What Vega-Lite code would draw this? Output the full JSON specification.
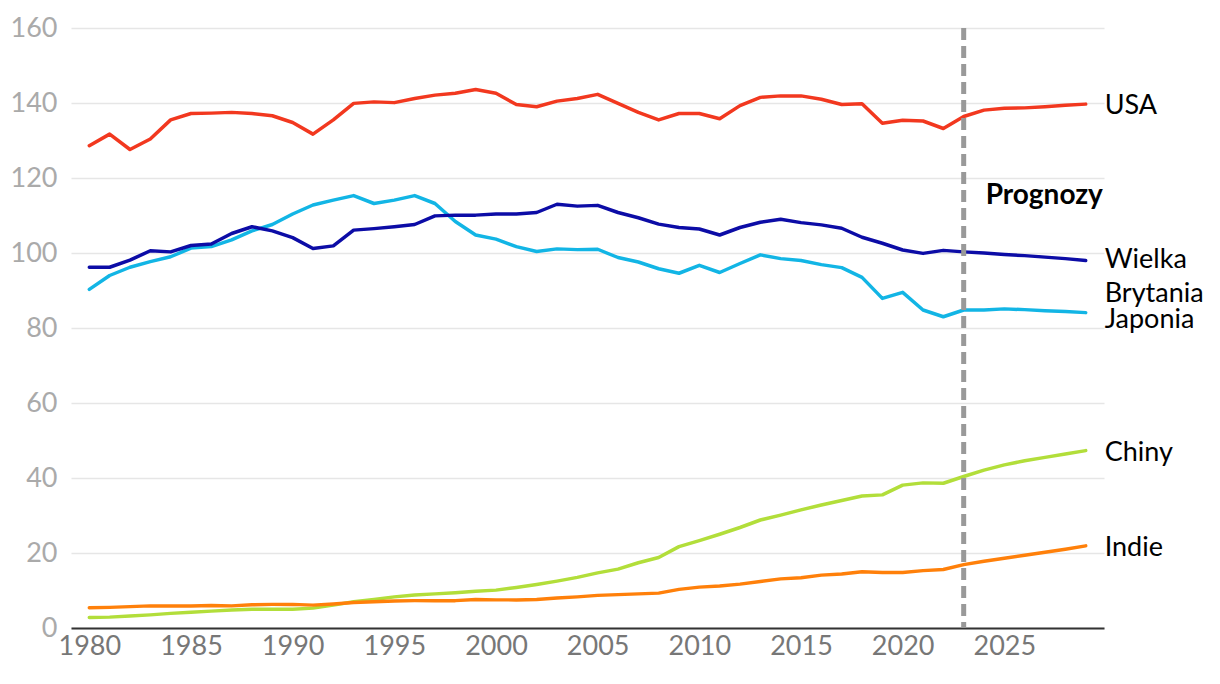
{
  "$schema": "https://vega.github.io/schema/vega-lite/v6.json",
  "width": 1033,
  "height": 600,
  "autosize": "none",
  "padding": {"left": 71, "top": 28, "right": 116, "bottom": 56},
  "background": "white",
  "config": {"font": "Lato", "view": {"stroke": null}},
  "data": {"values": [
    {"country":"USA","year":1980,"value":128.6},{"country":"USA","year":1981,"value":131.7},{"country":"USA","year":1982,"value":127.6},{"country":"USA","year":1983,"value":130.4},{"country":"USA","year":1984,"value":135.5},{"country":"USA","year":1985,"value":137.2},{"country":"USA","year":1986,"value":137.3},{"country":"USA","year":1987,"value":137.5},{"country":"USA","year":1988,"value":137.2},{"country":"USA","year":1989,"value":136.6},
    {"country":"USA","year":1990,"value":134.8},{"country":"USA","year":1991,"value":131.7},{"country":"USA","year":1992,"value":135.5},{"country":"USA","year":1993,"value":139.9},{"country":"USA","year":1994,"value":140.3},{"country":"USA","year":1995,"value":140.1},{"country":"USA","year":1996,"value":141.2},{"country":"USA","year":1997,"value":142.1},{"country":"USA","year":1998,"value":142.6},{"country":"USA","year":1999,"value":143.6},
    {"country":"USA","year":2000,"value":142.6},{"country":"USA","year":2001,"value":139.6},{"country":"USA","year":2002,"value":139.0},{"country":"USA","year":2003,"value":140.5},{"country":"USA","year":2004,"value":141.2},{"country":"USA","year":2005,"value":142.3},{"country":"USA","year":2006,"value":139.9},{"country":"USA","year":2007,"value":137.5},{"country":"USA","year":2008,"value":135.5},{"country":"USA","year":2009,"value":137.2},
    {"country":"USA","year":2010,"value":137.2},{"country":"USA","year":2011,"value":135.8},{"country":"USA","year":2012,"value":139.3},{"country":"USA","year":2013,"value":141.5},{"country":"USA","year":2014,"value":141.9},{"country":"USA","year":2015,"value":141.9},{"country":"USA","year":2016,"value":141.0},{"country":"USA","year":2017,"value":139.6},{"country":"USA","year":2018,"value":139.8},{"country":"USA","year":2019,"value":134.6},
    {"country":"USA","year":2020,"value":135.4},{"country":"USA","year":2021,"value":135.2},{"country":"USA","year":2022,"value":133.2},{"country":"USA","year":2023,"value":136.4},{"country":"USA","year":2024,"value":138.1},{"country":"USA","year":2025,"value":138.6},{"country":"USA","year":2026,"value":138.7},{"country":"USA","year":2027,"value":139.0},{"country":"USA","year":2028,"value":139.4},{"country":"USA","year":2029,"value":139.7},

    {"country":"Japonia","year":1980,"value":90.3},{"country":"Japonia","year":1981,"value":94.0},{"country":"Japonia","year":1982,"value":96.2},{"country":"Japonia","year":1983,"value":97.7},{"country":"Japonia","year":1984,"value":99.0},{"country":"Japonia","year":1985,"value":101.3},{"country":"Japonia","year":1986,"value":101.7},{"country":"Japonia","year":1987,"value":103.5},{"country":"Japonia","year":1988,"value":105.9},{"country":"Japonia","year":1989,"value":107.6},
    {"country":"Japonia","year":1990,"value":110.4},{"country":"Japonia","year":1991,"value":112.8},{"country":"Japonia","year":1992,"value":114.1},{"country":"Japonia","year":1993,"value":115.3},{"country":"Japonia","year":1994,"value":113.2},{"country":"Japonia","year":1995,"value":114.1},{"country":"Japonia","year":1996,"value":115.3},{"country":"Japonia","year":1997,"value":113.2},{"country":"Japonia","year":1998,"value":108.4},{"country":"Japonia","year":1999,"value":104.8},
    {"country":"Japonia","year":2000,"value":103.7},{"country":"Japonia","year":2001,"value":101.7},{"country":"Japonia","year":2002,"value":100.4},{"country":"Japonia","year":2003,"value":101.1},{"country":"Japonia","year":2004,"value":100.9},{"country":"Japonia","year":2005,"value":101.0},{"country":"Japonia","year":2006,"value":98.8},{"country":"Japonia","year":2007,"value":97.6},{"country":"Japonia","year":2008,"value":95.8},{"country":"Japonia","year":2009,"value":94.6},
    {"country":"Japonia","year":2010,"value":96.7},{"country":"Japonia","year":2011,"value":94.8},{"country":"Japonia","year":2012,"value":97.2},{"country":"Japonia","year":2013,"value":99.5},{"country":"Japonia","year":2014,"value":98.5},{"country":"Japonia","year":2015,"value":98.0},{"country":"Japonia","year":2016,"value":96.9},{"country":"Japonia","year":2017,"value":96.1},{"country":"Japonia","year":2018,"value":93.5},{"country":"Japonia","year":2019,"value":87.9},
    {"country":"Japonia","year":2020,"value":89.5},{"country":"Japonia","year":2021,"value":84.8},{"country":"Japonia","year":2022,"value":83.0},{"country":"Japonia","year":2023,"value":84.8},{"country":"Japonia","year":2024,"value":84.8},{"country":"Japonia","year":2025,"value":85.1},{"country":"Japonia","year":2026,"value":84.9},{"country":"Japonia","year":2027,"value":84.6},{"country":"Japonia","year":2028,"value":84.4},{"country":"Japonia","year":2029,"value":84.1},

    {"country":"Wielka Brytania","year":1980,"value":96.2},{"country":"Wielka Brytania","year":1981,"value":96.2},{"country":"Wielka Brytania","year":1982,"value":98.1},{"country":"Wielka Brytania","year":1983,"value":100.6},{"country":"Wielka Brytania","year":1984,"value":100.3},{"country":"Wielka Brytania","year":1985,"value":102.0},{"country":"Wielka Brytania","year":1986,"value":102.4},{"country":"Wielka Brytania","year":1987,"value":105.2},{"country":"Wielka Brytania","year":1988,"value":107.0},{"country":"Wielka Brytania","year":1989,"value":105.9},
    {"country":"Wielka Brytania","year":1990,"value":104.1},{"country":"Wielka Brytania","year":1991,"value":101.2},{"country":"Wielka Brytania","year":1992,"value":101.9},{"country":"Wielka Brytania","year":1993,"value":106.1},{"country":"Wielka Brytania","year":1994,"value":106.5},{"country":"Wielka Brytania","year":1995,"value":107.0},{"country":"Wielka Brytania","year":1996,"value":107.6},{"country":"Wielka Brytania","year":1997,"value":109.9},{"country":"Wielka Brytania","year":1998,"value":110.1},{"country":"Wielka Brytania","year":1999,"value":110.1},
    {"country":"Wielka Brytania","year":2000,"value":110.4},{"country":"Wielka Brytania","year":2001,"value":110.4},{"country":"Wielka Brytania","year":2002,"value":110.8},{"country":"Wielka Brytania","year":2003,"value":113.0},{"country":"Wielka Brytania","year":2004,"value":112.5},{"country":"Wielka Brytania","year":2005,"value":112.7},{"country":"Wielka Brytania","year":2006,"value":110.8},{"country":"Wielka Brytania","year":2007,"value":109.4},{"country":"Wielka Brytania","year":2008,"value":107.7},{"country":"Wielka Brytania","year":2009,"value":106.8},
    {"country":"Wielka Brytania","year":2010,"value":106.4},{"country":"Wielka Brytania","year":2011,"value":104.8},{"country":"Wielka Brytania","year":2012,"value":106.8},{"country":"Wielka Brytania","year":2013,"value":108.2},{"country":"Wielka Brytania","year":2014,"value":109.0},{"country":"Wielka Brytania","year":2015,"value":108.1},{"country":"Wielka Brytania","year":2016,"value":107.5},{"country":"Wielka Brytania","year":2017,"value":106.6},{"country":"Wielka Brytania","year":2018,"value":104.2},{"country":"Wielka Brytania","year":2019,"value":102.6},
    {"country":"Wielka Brytania","year":2020,"value":100.8},{"country":"Wielka Brytania","year":2021,"value":99.9},{"country":"Wielka Brytania","year":2022,"value":100.7},{"country":"Wielka Brytania","year":2023,"value":100.3},{"country":"Wielka Brytania","year":2024,"value":100.0},{"country":"Wielka Brytania","year":2025,"value":99.6},{"country":"Wielka Brytania","year":2026,"value":99.3},{"country":"Wielka Brytania","year":2027,"value":98.9},{"country":"Wielka Brytania","year":2028,"value":98.5},{"country":"Wielka Brytania","year":2029,"value":98.0},

    {"country":"Chiny","year":1980,"value":2.8},{"country":"Chiny","year":1981,"value":2.9},{"country":"Chiny","year":1982,"value":3.2},{"country":"Chiny","year":1983,"value":3.5},{"country":"Chiny","year":1984,"value":3.9},{"country":"Chiny","year":1985,"value":4.2},{"country":"Chiny","year":1986,"value":4.5},{"country":"Chiny","year":1987,"value":4.8},{"country":"Chiny","year":1988,"value":5.0},{"country":"Chiny","year":1989,"value":5.0},
    {"country":"Chiny","year":1990,"value":5.0},{"country":"Chiny","year":1991,"value":5.3},{"country":"Chiny","year":1992,"value":6.1},{"country":"Chiny","year":1993,"value":7.0},{"country":"Chiny","year":1994,"value":7.6},{"country":"Chiny","year":1995,"value":8.3},{"country":"Chiny","year":1996,"value":8.8},{"country":"Chiny","year":1997,"value":9.1},{"country":"Chiny","year":1998,"value":9.4},{"country":"Chiny","year":1999,"value":9.8},
    {"country":"Chiny","year":2000,"value":10.1},{"country":"Chiny","year":2001,"value":10.8},{"country":"Chiny","year":2002,"value":11.6},{"country":"Chiny","year":2003,"value":12.5},{"country":"Chiny","year":2004,"value":13.5},{"country":"Chiny","year":2005,"value":14.7},{"country":"Chiny","year":2006,"value":15.7},{"country":"Chiny","year":2007,"value":17.4},{"country":"Chiny","year":2008,"value":18.8},{"country":"Chiny","year":2009,"value":21.7},
    {"country":"Chiny","year":2010,"value":23.3},{"country":"Chiny","year":2011,"value":25.0},{"country":"Chiny","year":2012,"value":26.8},{"country":"Chiny","year":2013,"value":28.8},{"country":"Chiny","year":2014,"value":30.1},{"country":"Chiny","year":2015,"value":31.5},{"country":"Chiny","year":2016,"value":32.8},{"country":"Chiny","year":2017,"value":34.0},{"country":"Chiny","year":2018,"value":35.2},{"country":"Chiny","year":2019,"value":35.5},
    {"country":"Chiny","year":2020,"value":38.1},{"country":"Chiny","year":2021,"value":38.7},{"country":"Chiny","year":2022,"value":38.6},{"country":"Chiny","year":2023,"value":40.4},{"country":"Chiny","year":2024,"value":42.1},{"country":"Chiny","year":2025,"value":43.5},{"country":"Chiny","year":2026,"value":44.6},{"country":"Chiny","year":2027,"value":45.5},{"country":"Chiny","year":2028,"value":46.4},{"country":"Chiny","year":2029,"value":47.3},

    {"country":"Indie","year":1980,"value":5.4},{"country":"Indie","year":1981,"value":5.5},{"country":"Indie","year":1982,"value":5.7},{"country":"Indie","year":1983,"value":5.9},{"country":"Indie","year":1984,"value":5.9},{"country":"Indie","year":1985,"value":5.9},{"country":"Indie","year":1986,"value":6.0},{"country":"Indie","year":1987,"value":5.9},{"country":"Indie","year":1988,"value":6.2},{"country":"Indie","year":1989,"value":6.3},
    {"country":"Indie","year":1990,"value":6.3},{"country":"Indie","year":1991,"value":6.1},{"country":"Indie","year":1992,"value":6.4},{"country":"Indie","year":1993,"value":6.8},{"country":"Indie","year":1994,"value":7.0},{"country":"Indie","year":1995,"value":7.2},{"country":"Indie","year":1996,"value":7.3},{"country":"Indie","year":1997,"value":7.3},{"country":"Indie","year":1998,"value":7.3},{"country":"Indie","year":1999,"value":7.6},
    {"country":"Indie","year":2000,"value":7.5},{"country":"Indie","year":2001,"value":7.5},{"country":"Indie","year":2002,"value":7.6},{"country":"Indie","year":2003,"value":8.0},{"country":"Indie","year":2004,"value":8.3},{"country":"Indie","year":2005,"value":8.7},{"country":"Indie","year":2006,"value":8.9},{"country":"Indie","year":2007,"value":9.1},{"country":"Indie","year":2008,"value":9.3},{"country":"Indie","year":2009,"value":10.3},
    {"country":"Indie","year":2010,"value":10.9},{"country":"Indie","year":2011,"value":11.2},{"country":"Indie","year":2012,"value":11.7},{"country":"Indie","year":2013,"value":12.4},{"country":"Indie","year":2014,"value":13.1},{"country":"Indie","year":2015,"value":13.4},{"country":"Indie","year":2016,"value":14.1},{"country":"Indie","year":2017,"value":14.4},{"country":"Indie","year":2018,"value":15.0},{"country":"Indie","year":2019,"value":14.8},
    {"country":"Indie","year":2020,"value":14.8},{"country":"Indie","year":2021,"value":15.3},{"country":"Indie","year":2022,"value":15.6},{"country":"Indie","year":2023,"value":16.9},{"country":"Indie","year":2024,"value":17.8},{"country":"Indie","year":2025,"value":18.6},{"country":"Indie","year":2026,"value":19.4},{"country":"Indie","year":2027,"value":20.2},{"country":"Indie","year":2028,"value":21.0},{"country":"Indie","year":2029,"value":21.9}
  ]},
  "layer": [
    {
      "mark": {"type": "line", "strokeWidth": 3.5, "strokeJoin": "round", "strokeCap": "round"},
      "encoding": {
        "x": {"field": "year", "type": "quantitative",
              "scale": {"domain": [1979.1, 2029.9], "nice": false, "zero": false},
              "axis": {"values": [1980, 1985, 1990, 1995, 2000, 2005, 2010, 2015, 2020, 2025], "format": "d",
                       "grid": false, "ticks": false, "title": null,
                       "domainColor": "#333333", "domainWidth": 2,
                       "labelColor": "#777777", "labelFontSize": 27, "labelPadding": 5, "labelFont": "Lato"}},
        "y": {"field": "value", "type": "quantitative",
              "scale": {"domain": [0, 160], "nice": false},
              "axis": {"values": [0, 20, 40, 60, 80, 100, 120, 140, 160], "grid": true, "gridColor": "#e6e6e6", "gridWidth": 1.5,
                       "domain": false, "ticks": false, "title": null,
                       "labelColor": "#aaaaaa", "labelFontSize": 27, "labelPadding": 14, "labelFont": "Lato"}},
        "color": {"field": "country", "type": "nominal", "legend": null,
                  "scale": {"domain": ["USA", "Japonia", "Wielka Brytania", "Chiny", "Indie"],
                            "range": ["#f2381f", "#12b5e5", "#0c0ca6", "#b2de3a", "#ff800a"]}}
      }
    },
    {
      "transform": [{"filter": "datum.year == 2029 && (datum.country == 'USA' || datum.country == 'Chiny' || datum.country == 'Indie')"}],
      "mark": {"type": "text", "align": "left", "baseline": "middle", "dx": 19, "dy": 2, "fontSize": 27, "color": "#000000", "font": "Lato"},
      "encoding": {
        "x": {"field": "year", "type": "quantitative"},
        "y": {"field": "value", "type": "quantitative"},
        "text": {"field": "country"}
      }
    },
    {
      "transform": [{"filter": "datum.year == 2029 && datum.country == 'Wielka Brytania'"}],
      "mark": {"type": "text", "text": ["Wielka", "Brytania"], "lineHeight": 34, "align": "left", "baseline": "middle", "dx": 19, "dy": -1, "fontSize": 27, "color": "#000000", "font": "Lato"},
      "encoding": {
        "x": {"field": "year", "type": "quantitative"},
        "y": {"field": "value", "type": "quantitative"}
      }
    },
    {
      "transform": [{"filter": "datum.year == 2029 && datum.country == 'Japonia'"}],
      "mark": {"type": "text", "text": "Japonia", "align": "left", "baseline": "middle", "dx": 19, "dy": 7, "fontSize": 27, "color": "#000000", "font": "Lato"},
      "encoding": {
        "x": {"field": "year", "type": "quantitative"},
        "y": {"field": "value", "type": "quantitative"}
      }
    },
    {
      "data": {"values": [{}]},
      "mark": {"type": "text", "text": "Prognozy", "fontWeight": "bold", "fontSize": 28, "align": "left", "baseline": "middle", "dx": 22, "color": "#000000", "font": "Lato"},
      "encoding": {
        "x": {"datum": 2023, "type": "quantitative"},
        "y": {"datum": 115.2, "type": "quantitative"}
      }
    },
    {
      "data": {"values": [{}]},
      "mark": {"type": "rule", "strokeDash": [12, 6], "strokeWidth": 5, "color": "#999999"},
      "encoding": {
        "x": {"datum": 2023, "type": "quantitative"}
      }
    }
  ]
}
